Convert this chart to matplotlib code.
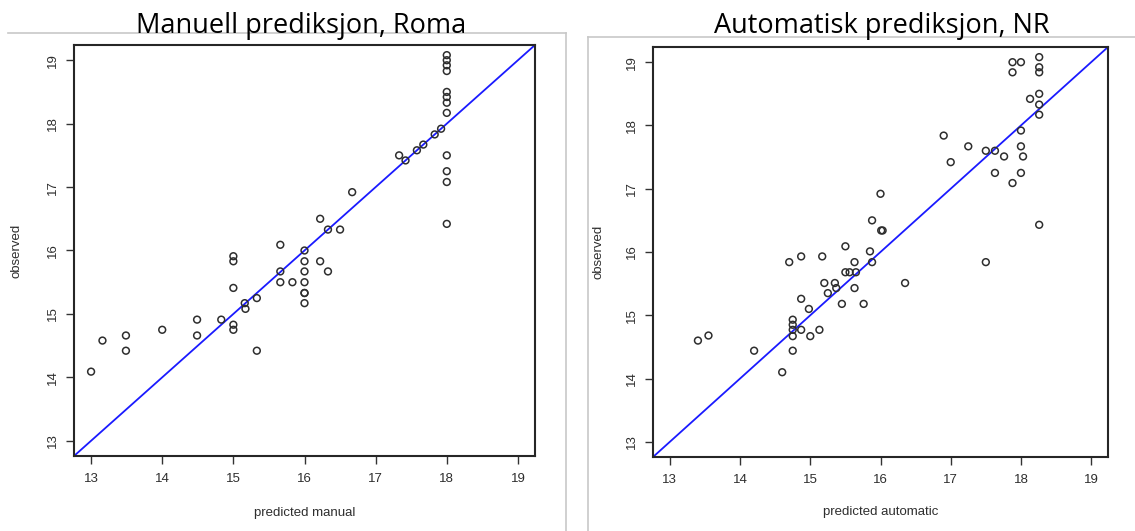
"""
Observed vs predicted scatter, manual (Roma) and automatic (NR) side by side.
"""

import matplotlib
matplotlib.use('Agg')
import matplotlib.pyplot as plt
from matplotlib.lines import Line2D

W, H = 1135, 531

# ── Data ──────────────────────────────────────────────────────────────────────
manual_pred = [13.0, 13.16, 13.49, 13.49, 14.0, 14.49, 14.49, 14.83, 15.0, 15.0,
               15.0, 15.0, 15.0, 15.16, 15.17, 15.33, 15.33, 15.66, 15.66, 15.66,
               15.83, 16.0, 16.0, 16.0, 16.0, 16.0, 16.0, 16.0, 16.22, 16.22,
               16.33, 16.33, 16.5, 16.67, 17.33, 17.42, 17.58, 17.67, 17.83, 17.92,
               18.0, 18.0, 18.0, 18.0, 18.0, 18.0, 18.0, 18.0, 18.0, 18.0,
               18.0, 18.0]
manual_obs = [14.09, 14.58, 14.66, 14.42, 14.75, 14.91, 14.66, 14.91, 14.83, 14.75,
              15.41, 15.83, 15.91, 15.17, 15.08, 15.25, 14.42, 16.09, 15.67, 15.5,
              15.5, 16.0, 15.83, 15.67, 15.5, 15.33, 15.33, 15.17, 16.5, 15.83,
              16.33, 15.67, 16.33, 16.92, 17.5, 17.42, 17.58, 17.67, 17.83, 17.92,
              18.17, 18.33, 18.42, 18.5, 18.83, 18.92, 19.0, 19.08, 17.5, 17.25,
              17.08, 16.42]

auto_pred = [13.40, 13.55, 14.20, 14.60, 14.70, 14.75, 14.75, 14.75, 14.75, 14.75,
             14.87, 14.87, 14.87, 14.98, 15.0, 15.13, 15.17, 15.20, 15.25, 15.35,
             15.37, 15.45, 15.50, 15.50, 15.56, 15.63, 15.63, 15.65, 15.76, 15.85,
             15.88, 15.88, 16.0, 16.01, 16.03, 16.35, 16.90, 17.0, 17.25, 17.50,
             17.50, 17.63, 17.63, 17.76, 17.88, 17.88, 17.88, 18.0, 18.0, 18.0,
             18.03, 18.0, 18.13, 18.26, 18.26, 18.26, 18.26, 18.26, 18.26, 18.26]
auto_obs = [14.60, 14.68, 14.44, 14.10, 15.84, 14.93, 14.85, 14.77, 14.67, 14.44,
            15.93, 15.26, 14.77, 15.10, 14.67, 14.77, 15.93, 15.51, 15.35, 15.51,
            15.43, 15.18, 16.09, 15.68, 15.68, 15.84, 15.43, 15.68, 15.18, 16.01,
            16.50, 15.84, 16.92, 16.34, 16.34, 15.51, 17.84, 17.42, 17.67, 17.60,
            15.84, 17.60, 17.25, 17.51, 17.09, 19.0, 18.84, 19.0, 17.92, 17.67,
            17.51, 17.25, 18.42, 19.08, 18.92, 18.84, 18.50, 18.33, 18.17, 16.43]

titles  = ['Manuell prediksjon, Roma', 'Automatisk prediksjon, NR']
xlabels = ['predicted manual', 'predicted automatic']
ticks   = [13, 14, 15, 16, 17, 18, 19]
lims    = (12.76, 19.24)

# ── Layout (pixels) ───────────────────────────────────────────────────────────
# axes box: left, top, right, bottom
boxes    = [(74, 45, 535, 456), (653, 47, 1108, 457)]
title_xy = [(301, 33), (882, 33)]
ylab_x   = [17, 598]
xlab_y   = [513, 512]

plt.rcParams['font.family'] = ['Liberation Sans', 'DejaVu Sans']

fig = plt.figure(figsize=(W / 100, H / 100), dpi=100)
fig.patch.set_facecolor('white')

# grey panel frames
frame_kw = dict(color='#c8c8c8', lw=1.2, transform=fig.transFigure)
fig.add_artist(Line2D([8 / W, 566 / W], [1 - 33 / H, 1 - 33 / H], **frame_kw))
fig.add_artist(Line2D([566 / W, 566 / W], [1 - 33 / H, 0], **frame_kw))
fig.add_artist(Line2D([588 / W, 1135 / W], [1 - 37 / H, 1 - 37 / H], **frame_kw))
fig.add_artist(Line2D([588 / W, 588 / W], [1 - 37 / H, 0], **frame_kw))

panels = [(manual_pred, manual_obs), (auto_pred, auto_obs)]
for i, (px, py) in enumerate(panels):
    l, t, r, b = boxes[i]
    ax = fig.add_axes([l / W, 1 - b / H, (r - l) / W, (b - t) / H])
    ax.scatter(px, py, s=24, facecolors='none', edgecolors='#2e2e2e',
               linewidths=1.1, zorder=3)
    ax.axline((13, 13), (19, 19), color='#1a1aff', lw=1.3, zorder=2)
    ax.set_xlim(*lims)
    ax.set_ylim(*lims)
    ax.set_xticks(ticks)
    ax.set_yticks(ticks)
    ax.set_xticklabels([str(v) for v in ticks], fontsize=9.5, color='#2e2e2e')
    ax.set_yticklabels([str(v) for v in ticks], fontsize=9.5, color='#2e2e2e',
                       rotation=90, va='center')
    ax.tick_params(axis='both', direction='out', length=5.5, width=1.0,
                   color='#333333')
    ax.tick_params(axis='x', pad=6.5)
    ax.tick_params(axis='y', pad=5.5)
    for sp in ax.spines.values():
        sp.set_linewidth(1.5)
        sp.set_color('#262626')

    ax.set_xlabel(xlabels[i], fontsize=9.5, color='#2e2e2e', va='center')
    ax.xaxis.set_label_coords(0.5, -(xlab_y[i] - b) / (b - t))
    ax.set_ylabel('observed', fontsize=9.5, color='#2e2e2e', va='center')
    ax.yaxis.set_label_coords((ylab_x[i] - l) / (r - l), 0.5)

    tx, ty = title_xy[i]
    fig.text(tx / W, 1 - ty / H, titles[i], fontsize=19.5, family='Open Sans',
             ha='center', va='baseline', color='black')

fig.savefig('out.png', dpi=100)
